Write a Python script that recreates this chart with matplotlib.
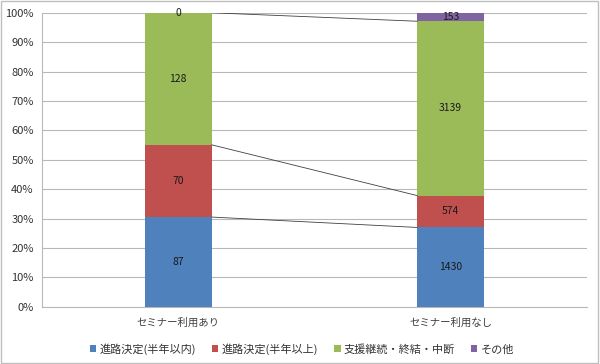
import numpy as np
import matplotlib
matplotlib.use("Agg")
import matplotlib.pyplot as plt
from matplotlib.patches import Rectangle

plt.rcParams['font.family'] = ['Noto Sans CJK JP', 'DejaVu Sans']

categories = ['セミナー利用あり', 'セミナー利用なし']
series_names = ['進路決定(半年以内)', '進路決定(半年以上)', '支援継続・終結・中断', 'その他']
counts = np.array([
    [87, 1430],
    [70, 574],
    [128, 3139],
    [0, 153],
])
colors = ['#4F81BD', '#C0504D', '#9BBB59', '#8064A2']

pct = counts / counts.sum(axis=0) * 100
x = np.arange(len(categories))
width = 0.246

fig = plt.figure(figsize=(6, 3.64), dpi=100)
ax = fig.add_axes([0.07, 0.157, 0.908, 0.808])

bottom = np.zeros(len(categories))
for i, name in enumerate(series_names):
    ax.bar(x, pct[i], width, bottom=bottom, color=colors[i], label=name, zorder=3)
    for j in range(len(categories)):
        ax.text(x[j], bottom[j] + pct[i][j] / 2, str(counts[i][j]),
                ha='center', va='center', fontsize=7.5, color='#1a1a1a', zorder=5)
    bottom = bottom + pct[i]

# series lines between bar tops
cum = np.cumsum(pct, axis=0)
for i in range(3):
    ax.plot([x[0] + width / 2, x[1] - width / 2], [cum[i][0], cum[i][1]],
            color='#404040', lw=0.6, zorder=4)

ax.set_xlim(-0.5, 1.5)
ax.set_ylim(0, 100)
ax.set_yticks(np.arange(0, 101, 10))
ax.set_yticklabels([f'{v}%' for v in range(0, 101, 10)], fontsize=8, color='#333333')
ax.set_xticks(x)
ax.set_xticklabels(categories, fontsize=7.5, color='#404040')
ax.yaxis.grid(True, color='#B8B8B8', lw=0.8, zorder=0)
ax.tick_params(axis='y', length=0, pad=6)
ax.tick_params(axis='x', length=0, pad=8)
for s in ['top', 'right']:
    ax.spines[s].set_visible(False)
ax.spines['left'].set_color('#B8B8B8')
ax.spines['bottom'].set_color('#B8B8B8')

ax.legend(loc='upper center', bbox_to_anchor=(0.477, -0.09), ncol=4, frameon=False,
          fontsize=8, handlelength=0.6, handleheight=0.6, handletextpad=0.3,
          columnspacing=1.4, labelcolor='#333333')

fig.patches.append(Rectangle((0.002, 0.003), 0.995, 0.994, transform=fig.transFigure,
                             fill=False, edgecolor='#BFBFBF', lw=1))

fig.savefig('out.png', dpi=100)
